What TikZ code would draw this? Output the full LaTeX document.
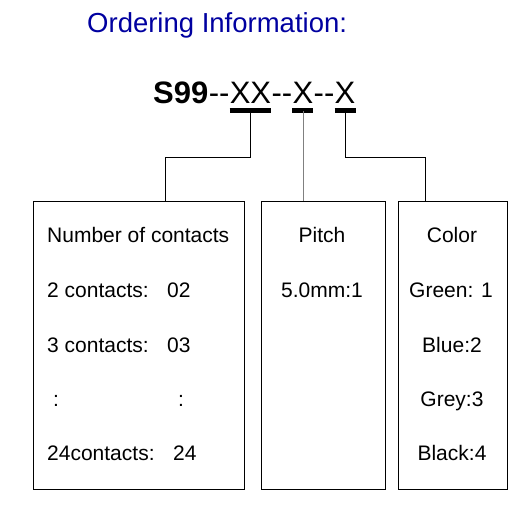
\documentclass[tikz,border=0pt]{standalone}
\usepackage{fontspec}
\setmainfont{Liberation Sans}
\usetikzlibrary{positioning}
\definecolor{titleblue}{RGB}{0,0,160}

\begin{document}
\begin{tikzpicture}[
    x = 1pt, y = -1pt,
    title/.style={anchor=base west, inner sep=0pt, text=titleblue, font=\fontsize{27.5}{30}\selectfont},
    code/.style={anchor=base west, inner sep=0pt, font=\fontsize{31}{33}\selectfont},
    field/.style={draw, line width=0.8pt, minimum height=288pt, inner sep=0pt},
    entry/.style={anchor=base west, inner sep=0pt, font=\fontsize{21}{23}\selectfont},
    centry/.style={entry, anchor=base},
    bar/.style={line width=5pt},
    link/.style={line width=0.8pt}
]
    \useasboundingbox (0,0) rectangle (531,511);

    % heading and part number
    \node[title] (head) at (87,33) {Ordering Information:};
    \node[code, font=\fontsize{31}{33}\selectfont\bfseries] (s99) at (153,104) {S99};
    \node[code] (d1) at (s99.base east) {-{}-};
    \node[code] (xx) at (d1.base east) {XX};
    \node[code] (d2) at (xx.base east) {-{}-};
    \node[code] (xa) at (d2.base east) {X};
    \node[code] (d3) at (xa.base east) {-{}-};
    \node[code] (xb) at (d3.base east) {X};

    \draw[bar] ([yshift=-7pt]xx.base west) -- ([yshift=-7pt]xx.base east);
    \draw[bar] ([yshift=-7pt]xa.base west) -- ([yshift=-7pt]xa.base east);
    \draw[bar] ([yshift=-7pt]xb.base west) -- ([yshift=-7pt]xb.base east);
    \coordinate (xxbar) at ([yshift=-7pt]xx.base);
    \coordinate (xabar) at ([yshift=-7pt]xa.base);
    \coordinate (xbbar) at ([yshift=-7pt]xb.base);
    \coordinate (knee) at (0,157);

    % the three fields
    \node[field, minimum width=211pt] (num) at (138.5,345) {};
    \node[field, minimum width=124pt] (pitch) at (323,345) {};
    \node[field, minimum width=109pt] (color) at (452.5,345) {};

    \draw[link] (xxbar) -- (xxbar |- knee) -| ([xshift=133pt]num.north west);
    \draw[link, gray] (xabar) -- (xabar |- pitch.north);
    \draw[link] (xbbar) -- (xbbar |- knee) -| ([xshift=28pt]color.north west);

    % number of contacts
    \node[entry] (n0) at (47,242) {Number of contacts};
    \node[entry] (n1) at (47,297) {2 contacts:};
    \node[entry] (v1) at (167,297) {02};
    \node[entry] (n2) at (47,352) {3 contacts:};
    \node[entry] (v2) at (167,352) {03};
    \node[entry] (n3) at (53,406) {:};
    \node[entry] (v3) at (178,406) {:};
    \node[entry] (n4) at (47,460) {24contacts:};
    \node[entry] (v4) at (173,460) {24};

    % pitch
    \node[centry] (p0) at (322,242) {Pitch};
    \node[centry] (p1) at (322,297) {5.0mm:1};

    % color
    \node[centry] (c0) at (452,242) {Color};
    \node[centry] (c1) at (451,297) {Green: 1};
    \node[centry] (c2) at (452,352) {Blue:2};
    \node[centry] (c3) at (452,406) {Grey:3};
    \node[centry] (c4) at (452,460) {Black:4};
\end{tikzpicture}
\end{document}
